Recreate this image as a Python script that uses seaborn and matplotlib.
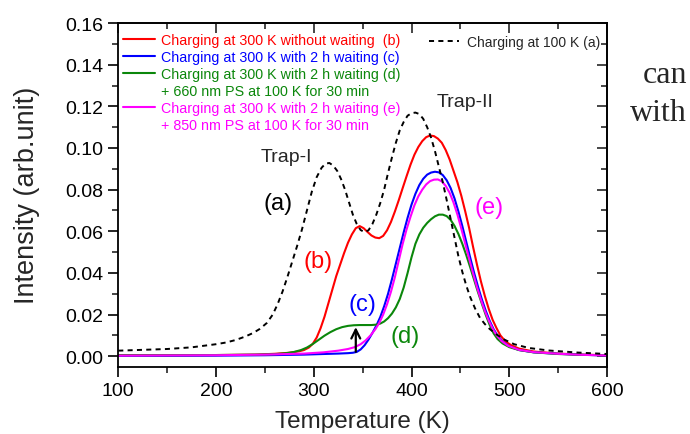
import numpy as np
import pandas as pd
import matplotlib
matplotlib.use("Agg")
import matplotlib.pyplot as plt
from matplotlib.lines import Line2D
import seaborn as sns

# ---------------- data ----------------
T_a = [100, 125, 150, 175, 190, 200, 210, 220, 230, 238, 245, 252, 258, 263, 268, 273,
       278, 283, 288, 293, 298, 303, 308, 312, 316, 320, 324, 328, 332, 336, 340, 344,
       348, 352, 356, 360, 364, 368, 372, 376, 380, 384, 388, 392, 396, 400, 404, 408,
       412, 416, 420, 424, 428, 432, 436, 440, 444, 448, 452, 456, 460, 465, 470, 475,
       480, 487, 495, 505, 520, 540, 570, 600]
I_a = [0.0027, 0.0031, 0.0035, 0.0043, 0.0052, 0.0058, 0.0066, 0.0078, 0.0095, 0.0112,
       0.0132, 0.0160, 0.0200, 0.0250, 0.0310, 0.0380, 0.0455, 0.0530, 0.0610, 0.0700,
       0.0790, 0.0860, 0.0905, 0.0925, 0.0928, 0.0915, 0.0890, 0.0850, 0.0800, 0.0740,
       0.0680, 0.0635, 0.0606, 0.0596, 0.0605, 0.0635, 0.0680, 0.0735, 0.0800, 0.0880,
       0.0955, 0.1025, 0.1085, 0.1125, 0.1155, 0.1167, 0.1170, 0.1163, 0.1140, 0.1100,
       0.1050, 0.0985, 0.0910, 0.0836, 0.0750, 0.0660, 0.0570, 0.0480, 0.0405, 0.0340,
       0.0285, 0.0230, 0.0185, 0.0155, 0.0131, 0.0105, 0.0080, 0.0058, 0.0040, 0.0028,
       0.0018, 0.0011]

T_b = [100, 150, 200, 240, 260, 275, 285, 290, 295, 299, 303, 307, 311, 315, 319, 323,
       327, 331, 335, 339, 343, 347, 351, 355, 359, 363, 367, 371, 375, 379, 383, 387,
       391, 395, 399, 403, 407, 411, 415, 419, 423, 427, 431, 435, 439, 443, 447, 451,
       455, 459, 463, 467, 471, 475, 479, 483, 487, 491, 496, 502, 510, 525, 550, 575, 600]
I_b = [0.0005, 0.0005, 0.0006, 0.0008, 0.0012, 0.0017, 0.0024, 0.0030, 0.0042, 0.0060,
       0.0090, 0.0135, 0.0190, 0.0255, 0.0320, 0.0385, 0.0440, 0.0495, 0.0545, 0.0585,
       0.0615, 0.0625, 0.0615, 0.0597, 0.0580, 0.0570, 0.0567, 0.0578, 0.0605, 0.0645,
       0.0695, 0.0750, 0.0808, 0.0865, 0.0920, 0.0968, 0.1005, 0.1033, 0.1052, 0.1060,
       0.1057, 0.1045, 0.1025, 0.0990, 0.0945, 0.0890, 0.0835, 0.0770, 0.0695, 0.0615,
       0.0525, 0.0440, 0.0360, 0.0290, 0.0228, 0.0175, 0.0135, 0.0100, 0.0072, 0.0053,
       0.0037, 0.0023, 0.0013, 0.0008, 0.0005]

T_c = [100, 150, 200, 250, 290, 310, 325, 335, 340, 344, 348, 352, 356, 360, 364, 368,
       372, 376, 380, 384, 388, 392, 396, 400, 404, 408, 412, 416, 420, 424, 428, 432,
       436, 440, 444, 448, 452, 456, 460, 464, 468, 472, 476, 480, 484, 488, 493, 500,
       510, 525, 550, 575, 600]
I_c = [0.0002, 0.0002, 0.0003, 0.0005, 0.0008, 0.0011, 0.0013, 0.0015, 0.0017, 0.0021,
       0.0033, 0.0053, 0.0080, 0.0112, 0.0147, 0.0188, 0.0240, 0.0300, 0.0370, 0.0445,
       0.0520, 0.0595, 0.0665, 0.0728, 0.0780, 0.0822, 0.0852, 0.0872, 0.0882, 0.0886,
       0.0883, 0.0870, 0.0845, 0.0808, 0.0758, 0.0695, 0.0625, 0.0550, 0.0475, 0.0402,
       0.0335, 0.0273, 0.0218, 0.0170, 0.0130, 0.0100, 0.0072, 0.0048, 0.0030, 0.0019,
       0.0012, 0.0007, 0.0004]

T_d = [100, 150, 200, 240, 260, 272, 280, 287, 293, 299, 305, 311, 317, 323, 329, 335,
       341, 347, 353, 359, 364, 368, 372, 376, 380, 384, 388, 392, 396, 400, 404, 408,
       412, 416, 420, 424, 428, 432, 436, 440, 444, 448, 452, 456, 460, 464, 468, 472,
       476, 480, 484, 488, 493, 500, 510, 525, 550, 575, 600]
I_d = [0.0005, 0.0005, 0.0006, 0.0008, 0.0010, 0.0015, 0.0021, 0.0030, 0.0042, 0.0059,
       0.0079, 0.0099, 0.0116, 0.0130, 0.0140, 0.0146, 0.0149, 0.0150, 0.0150, 0.0150,
       0.0152, 0.0157, 0.0167, 0.0183, 0.0205, 0.0235, 0.0275, 0.0330, 0.0400, 0.0475,
       0.0540, 0.0585, 0.0617, 0.0640, 0.0658, 0.0672, 0.0680, 0.0680, 0.0673, 0.0655,
       0.0626, 0.0587, 0.0540, 0.0486, 0.0428, 0.0368, 0.0308, 0.0252, 0.0198, 0.0150,
       0.0110, 0.0083, 0.0062, 0.0044, 0.0030, 0.0019, 0.0011, 0.0007, 0.0005]

T_e = [100, 150, 200, 250, 290, 310, 325, 335, 342, 348, 353, 358, 363, 367, 371, 375,
       379, 383, 387, 391, 395, 399, 403, 407, 411, 415, 419, 423, 427, 431, 435, 439,
       443, 447, 451, 455, 459, 463, 467, 471, 475, 479, 483, 487, 492, 499, 510, 525,
       550, 575, 600]
I_e = [0.0003, 0.0004, 0.0005, 0.0008, 0.0013, 0.0019, 0.0027, 0.0035, 0.0044, 0.0058,
       0.0076, 0.0100, 0.0130, 0.0160, 0.0200, 0.0250, 0.0310, 0.0380, 0.0460, 0.0540,
       0.0610, 0.0670, 0.0725, 0.0768, 0.0800, 0.0825, 0.0841, 0.0848, 0.0849, 0.0840,
       0.0818, 0.0785, 0.0738, 0.0680, 0.0612, 0.0540, 0.0468, 0.0398, 0.0332, 0.0272,
       0.0218, 0.0172, 0.0133, 0.0102, 0.0074, 0.0050, 0.0031, 0.0020, 0.0012, 0.0007,
       0.0004]

labels = {
    "b": "Charging at 300 K without waiting  (b)",
    "c": "Charging at 300 K with 2 h waiting (c)",
    "d": "Charging at 300 K with 2 h waiting (d)",
    "d2": "+ 660 nm PS at 100 K for 30 min",
    "e": "Charging at 300 K with 2 h waiting (e)",
    "e2": "+ 850 nm PS at 100 K for 30 min",
    "a": "Charging at 100 K (a)",
}
x_ticks = [100, 200, 300, 400, 500, 600]
y_ticks = [0.00, 0.02, 0.04, 0.06, 0.08, 0.10, 0.12, 0.14, 0.16]

colors = {"a": "black", "b": "#ff0000", "c": "#0000ff", "d": "#0b870b", "e": "#ff00ff"}

# ---------------- styling ----------------
sns.set_theme(style="ticks")
plt.rcParams["font.family"] = ["Liberation Sans", "DejaVu Sans"]

fig = plt.figure(figsize=(6.9, 4.35), dpi=100)
ax = fig.add_axes([0.1714, 0.1547, 0.7083, 0.7901])

series = [("b", T_b, I_b), ("c", T_c, I_c), ("d", T_d, I_d), ("e", T_e, I_e)]
for key, T, I in series:
    df = pd.DataFrame({"T": T, "I": I})
    sns.lineplot(data=df, x="T", y="I", ax=ax, color=colors[key], lw=1.5,
                 estimator=None, legend=False)
df_a = pd.DataFrame({"T": T_a, "I": I_a})
sns.lineplot(data=df_a, x="T", y="I", ax=ax, color="black", lw=1.4,
             linestyle=(0, (2.6, 2.2)), estimator=None, legend=False)

ax.set_xlim(100, 600)
ax.set_ylim(-0.005, 0.16)
ax.set_xticks(x_ticks)
ax.set_yticks(y_ticks)
ax.set_xticks(np.arange(150, 600, 100), minor=True)
ax.set_yticks(np.arange(0.01, 0.16, 0.02), minor=True)
ax.yaxis.set_major_formatter(matplotlib.ticker.FormatStrFormatter("%.2f"))
ax.tick_params(which="major", direction="out", length=7, width=1.2, labelsize=14,
               pad=4, colors="black")
ax.tick_params(which="minor", direction="out", length=4, width=1.2)
for s in ax.spines.values():
    s.set_linewidth(1.3)
    s.set_color("black")

secx = ax.secondary_xaxis("top")
secx.set_xticks(x_ticks)
secx.set_xticks(np.arange(150, 600, 100), minor=True)
secx.tick_params(which="major", direction="in", length=7, width=1.2, labeltop=False)
secx.tick_params(which="minor", direction="in", length=4, width=1.2)
secx.spines["top"].set_linewidth(1.3)
secy = ax.secondary_yaxis("right")
secy.set_yticks(y_ticks)
secy.set_yticks(np.arange(0.01, 0.16, 0.02), minor=True)
secy.tick_params(which="major", direction="in", length=7, width=1.2, labelright=False)
secy.tick_params(which="minor", direction="in", length=4, width=1.2)
secy.spines["right"].set_linewidth(1.3)

ax.set_xlabel("Temperature (K)", fontsize=17.5, labelpad=8)
ax.set_ylabel("Intensity (arb.unit)", fontsize=19.5, labelpad=18)

# legends
h = [Line2D([], [], color=colors["b"], lw=1.5),
     Line2D([], [], color=colors["c"], lw=1.5),
     Line2D([], [], color=colors["d"], lw=1.5),
     Line2D([], [], color="none"),
     Line2D([], [], color=colors["e"], lw=1.5),
     Line2D([], [], color="none")]
lab = [labels["b"], labels["c"], labels["d"], labels["d2"], labels["e"], labels["e2"]]
lcol = [colors["b"], colors["c"], colors["d"], colors["d"], colors["e"], colors["e"]]
leg1 = ax.legend(h, lab, loc="upper left", bbox_to_anchor=(0.0035, 0.978), frameon=False,
                 fontsize=10.3, labelspacing=0.2, handlelength=2.25, handletextpad=0.45,
                 borderpad=0.2, borderaxespad=0, labelcolor=lcol)
ax.add_artist(leg1)
ha = [Line2D([], [], color="black", lw=1.4, linestyle=(0, (2.6, 2.2)))]
ax.legend(ha, [labels["a"]], loc="upper right", bbox_to_anchor=(0.992, 0.974),
          frameon=False, fontsize=10, handlelength=2.2, handletextpad=0.55,
          borderpad=0.2, borderaxespad=0)

# annotations
ax.text(272, 0.0958, "Trap-I", fontsize=14, ha="center", va="center")
ax.text(455, 0.1225, "Trap-II", fontsize=14, ha="center", va="center")
ax.text(263, 0.0737, "(a)", fontsize=17, ha="center", va="center", color="black")
ax.text(304, 0.0458, "(b)", fontsize=17, ha="center", va="center", color=colors["b"])
ax.text(350, 0.0251, "(c)", fontsize=17, ha="center", va="center", color=colors["c"])
ax.text(393, 0.0098, "(d)", fontsize=17, ha="center", va="center", color=colors["d"])
ax.text(479, 0.0717, "(e)", fontsize=17, ha="center", va="center", color=colors["e"])
ax.annotate("", xy=(343, 0.0140), xytext=(343, 0.0022),
            arrowprops=dict(arrowstyle="->", lw=1.6, color="black", mutation_scale=16,
                            shrinkA=0, shrinkB=0))

# surrounding page text
fig.text(687 / 690, 1 - 83 / 435, "can", fontsize=23, ha="right", va="baseline",
         family=["Liberation Serif", "DejaVu Serif"])
fig.text(687 / 690, 1 - 121 / 435, "with", fontsize=23, ha="right", va="baseline",
         family=["Liberation Serif", "DejaVu Serif"])

fig.savefig("out.png", dpi=100)
